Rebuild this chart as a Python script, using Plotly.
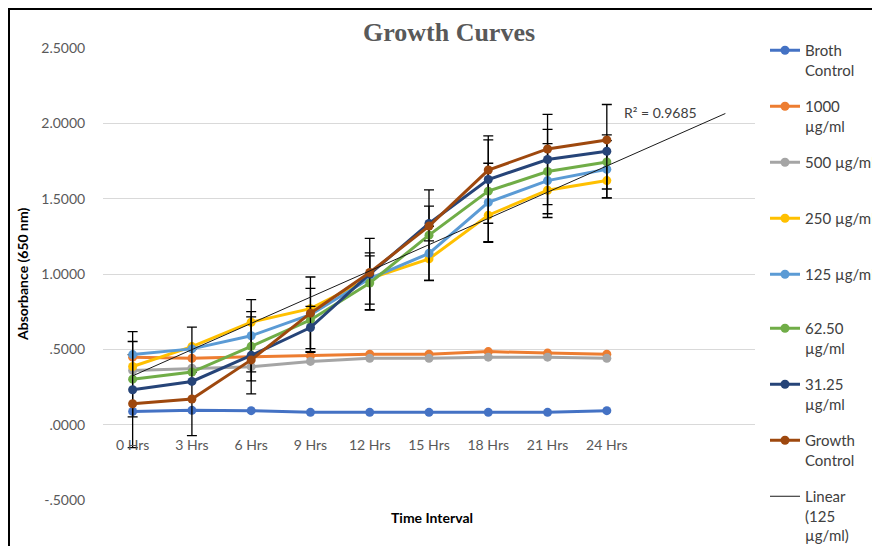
import numpy as np
import plotly.graph_objects as go

# ---------------- data ----------------
time_labels = ["0 Hrs", "3 Hrs", "6 Hrs", "9 Hrs", "12 Hrs", "15 Hrs", "18 Hrs", "21 Hrs", "24 Hrs"]

broth_control = [0.088, 0.095, 0.093, 0.082, 0.082, 0.082, 0.082, 0.082, 0.093]
c1000 = [0.448, 0.440, 0.450, 0.457, 0.468, 0.468, 0.485, 0.475, 0.468]
c500 = [0.360, 0.375, 0.385, 0.420, 0.440, 0.440, 0.448, 0.448, 0.440]
c250 = [0.386, 0.518, 0.680, 0.770, 0.970, 1.100, 1.390, 1.556, 1.620]
c125 = [0.465, 0.503, 0.590, 0.730, 0.970, 1.137, 1.475, 1.620, 1.695]
c62_5 = [0.302, 0.349, 0.520, 0.695, 0.940, 1.258, 1.550, 1.680, 1.744]
c31_25 = [0.232, 0.287, 0.460, 0.645, 1.000, 1.335, 1.627, 1.760, 1.815]
growth_control = [0.139, 0.170, 0.430, 0.740, 1.010, 1.318, 1.690, 1.830, 1.890]

# error bar sizes
err_31_25 = [0.385, 0.360, 0.255, 0.140, 0.236, 0.115, 0.290, 0.300, 0.310]
err_62_5 = [0.250, None, 0.230, 0.210, 0.180, 0.300, 0.340, 0.280, 0.180]
err_125 = [None, None, 0.240, 0.250, 0.170, 0.180, 0.260, 0.245, 0.190]

y_tick_vals = [-0.5, 0.0, 0.5, 1.0, 1.5, 2.0, 2.5]
y_tick_text = ["-.5000", ".0000", ".5000", "1.0000", "1.5000", "2.0000", "2.5000"]

r2_label = "R² = 0.9685"
forecast_periods = 2

series = [
    ("Broth<br>Control", broth_control, "#4472C4", None, "legend"),
    ("1000<br>µg/ml", c1000, "#ED7D31", None, "legend"),
    ("500 µg/ml<br>\u00a0", c500, "#A5A5A5", None, "legend"),
    ("250 µg/ml<br>\u00a0", c250, "#FFC000", None, "legend"),
    ("125 µg/ml<br>\u00a0", c125, "#5B9BD5", err_125, "legend"),
    ("62.50<br>µg/ml", c62_5, "#70AD47", err_62_5, "legend2"),
    ("31.25<br>µg/ml", c31_25, "#264478", err_31_25, "legend2"),
    ("Growth<br>Control", growth_control, "#9E480E", None, "legend2"),
]

FONT = "Lato, 'Open Sans', sans-serif"
x_pos = list(range(len(time_labels)))

# figure size chosen so that, with the page's 8px body margin, it fills the 880x546 window
W, H = 872, 538
L, R, T, B = 95, 125, 40, 46
PW, PH = W - L - R, H - T - B

fig = go.Figure()
for i, (name, vals, color, err, leg) in enumerate(series):
    kw = {}
    if err is not None:
        kw["error_y"] = dict(type="data", array=err, visible=True, color="#000000",
                             thickness=1.3, width=5)
    fig.add_trace(go.Scatter(
        x=x_pos, y=vals, name=name, mode="lines+markers",
        line=dict(color=color, width=3),
        marker=dict(color=color, size=9, symbol="circle"),
        legendgroup=f"g{i}", legend=leg, **kw))

# linear trendline of 125 µg/ml with forward forecast
coef = np.polyfit(np.array(x_pos, dtype=float), np.array(c125), 1)
x_tr = np.array([0, len(time_labels) - 1 + forecast_periods], dtype=float)
y_tr = np.polyval(coef, x_tr)
fig.add_trace(go.Scatter(
    x=x_tr, y=y_tr, name="Linear<br>(125<br>µg/ml)", mode="lines",
    line=dict(color="#1a1a1a", width=1), legendgroup="gtr", legend="legend2"))

n_slots = len(time_labels) + forecast_periods

legend_common = dict(xref="container", yref="container", x=757 / W,
                     xanchor="left", yanchor="top", valign="top",
                     font=dict(family=FONT, size=15, color="#404040"),
                     bgcolor="rgba(0,0,0,0)", tracegroupgap=14, itemwidth=30)


def px_x(v):
    return (v - L) / PW


def px_y(v):
    return (H - B - v) / PH


fig.update_layout(
    width=W, height=H,
    margin=dict(l=L, r=R, t=T, b=B, autoexpand=False),
    paper_bgcolor="white", plot_bgcolor="white",
    font=dict(family=FONT, size=14, color="#595959"),
    title=dict(text="<b>Growth Curves</b>", x=441 / W, xanchor="center",
               xref="container", yref="container", y=1 - 24 / H, yanchor="middle",
               font=dict(family="'Liberation Serif', 'DejaVu Serif', serif", size=26, color="#595959")),
    showlegend=True,
    legend=dict(y=1 - 26 / H, **legend_common),
    legend2=dict(y=1 - 304 / H, **legend_common),
    xaxis=dict(range=[-0.5, n_slots - 0.5], tickmode="array", tickvals=x_pos,
               ticktext=time_labels, showgrid=False, zeroline=False, showline=False,
               anchor="free", position=0.5 / 3.0, ticks="outside", ticklen=8,
               tickcolor="rgba(0,0,0,0)",
               tickfont=dict(family=FONT, size=14, color="#595959")),
    yaxis=dict(range=[-0.5, 2.5], tickmode="array", tickvals=y_tick_vals,
               ticktext=y_tick_text, showgrid=True, gridcolor="#D9D9D9", gridwidth=1.3,
               zeroline=False, showline=False, ticks="outside", ticklen=14,
               tickcolor="rgba(0,0,0,0)",
               tickfont=dict(family=FONT, size=14, color="#595959")),
    annotations=[
        dict(text="<b>Absorbance (650 nm)</b>", xref="paper", yref="paper",
             x=px_x(14), y=0.5, textangle=-90, showarrow=False,
             xanchor="center", yanchor="middle",
             font=dict(family=FONT, size=14, color="#000000")),
        dict(text="<b>Time Interval</b>", xref="paper", yref="paper",
             x=px_x(424), y=px_y(509), showarrow=False,
             xanchor="center", yanchor="middle",
             font=dict(family=FONT, size=14, color="#000000")),
        dict(text=r2_label, xref="x", yref="y", x=8.9, y=2.07, showarrow=False,
             xanchor="center", yanchor="middle",
             font=dict(family=FONT, size=14, color="#404040")),
    ],
    shapes=[
        dict(type="line", xref="paper", yref="paper",
             x0=px_x(1), x1=px_x(1), y0=px_y(0), y1=px_y(H + 10),
             line=dict(color="black", width=2)),
        dict(type="line", xref="paper", yref="paper",
             x0=px_x(0), x1=px_x(W + 10), y0=px_y(1), y1=px_y(1),
             line=dict(color="black", width=2)),
    ],
)

fig.write_html("out.html")
